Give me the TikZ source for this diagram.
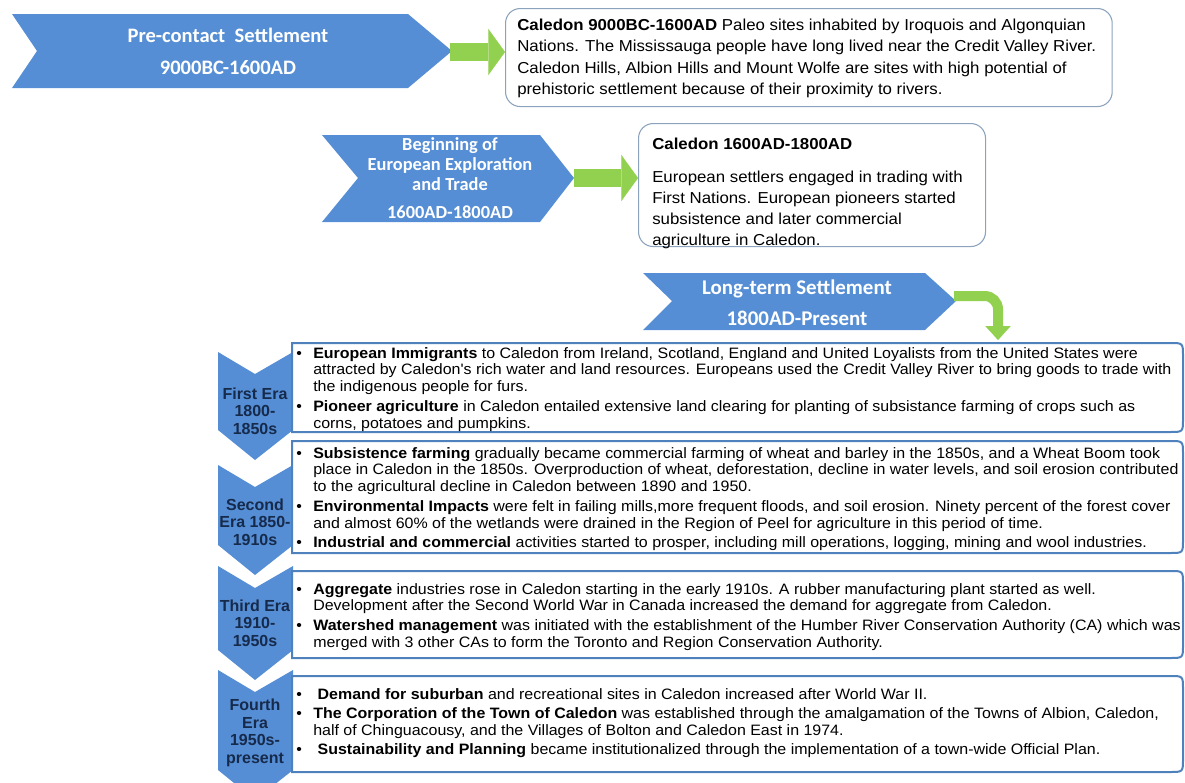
\documentclass[tikz,border=0pt]{standalone}
\usepackage{fontspec}
\setmainfont{Liberation Sans}
\newfontfamily\calibri{Carlito}
\newfontfamily\bodyfont[FakeStretch=1.06]{Liberation Sans}
\usetikzlibrary{
    arrows.meta,  % arrow tips
    positioning,  % relative placement
}

\definecolor{chevblue}{RGB}{85,142,213}
\definecolor{leafgreen}{RGB}{146,208,80}
\definecolor{framegray}{RGB}{140,163,190}
\definecolor{eraframe}{RGB}{79,129,189}
\definecolor{eranavy}{RGB}{22,42,75}

\newcommand{\bul}{\makebox[12.75pt][l]{•}}
\newcommand{\ind}{\hspace*{12.75pt}}

\tikzset{
    chev/.style={fill=chevblue},
    chevtext/.style={text=white, align=center, inner sep=0pt},
    eratext/.style={text=eranavy, align=center, inner sep=0pt, font=\bfseries\fontsize{12}{13.2}\selectfont},
    topbox/.style={draw=framegray, line width=0.8pt, rounded corners=11pt, fill=white, inner sep=0pt},
    toptext/.style={align=left, inner sep=0pt, font=\bodyfont\fontsize{11.9}{16.1}\selectfont},
    erabox/.style={draw=eraframe, line width=1.5pt, fill=white},
    bodytext/.style={align=left, inner sep=0pt, font=\bodyfont\fontsize{11.3}{12.6}\selectfont},
    greenjump/.style={draw=leafgreen, line width=13.5pt, -{Triangle[width=34.5pt,length=12.5pt,line width=0.1pt]}},
    greenbend/.style={draw=leafgreen, line width=7.5pt, rounded corners=10pt, -{Triangle[width=19pt,length=10.5pt,line width=0.1pt]}},
}

\begin{document}
\begin{tikzpicture}[x=0.75pt, y=-0.75pt]
\useasboundingbox (0,0) rectangle (1185,782);

% pre-contact
\fill[chev] (12,14) -- (408,14) -- (452,51) -- (408,88) -- (12,88) -- (37,51) -- cycle;
\node[chevtext, font=\calibri\bfseries\fontsize{15.4}{24}\selectfont] (precontact) at (228,51) {Pre-contact\ \ Settlement\\9000BC-1600AD};
\node[topbox, minimum width=455pt, minimum height=73.5pt, anchor=north west] (c9000) at (505,8) {};
\node[toptext, below right=8pt and 9pt of c9000.north west] (t9000) {\textbf{Caledon 9000BC-1600AD} Paleo sites inhabited by Iroquois and Algonquian\\Nations. The Mississauga people have long lived near the Credit Valley River.\\Caledon Hills, Albion Hills and Mount Wolfe are sites with high potential of\\prehistoric settlement because of their proximity to rivers.};
\coordinate (pretip) at (450,52);
\draw[greenjump] (pretip) -- (pretip -| c9000.west);

% exploration and trade
\fill[chev] (322,135) -- (540,135) -- (574,178) -- (540,222) -- (322,222) -- (358,178) -- cycle;
\node[chevtext, font=\calibri\bfseries\fontsize{13.8}{15}\selectfont] (explore) at (450,178) {Beginning of\\European Exploration\\and Trade\\[6pt]1600AD-1800AD};
\node[topbox, minimum width=260.25pt, minimum height=92.25pt, anchor=north west] (c1600) at (638,123) {};
\node[toptext, font=\bodyfont\fontsize{11.9}{15.75}\selectfont, below right=10.8pt and 10.5pt of c1600.north west] (t1600) {\textbf{Caledon 1600AD-1800AD}\\[9pt]European settlers engaged in trading with\\First Nations. European pioneers started\\subsistence and later commercial\\agriculture in Caledon.};
\coordinate (exptip) at (574,178);
\draw[greenjump] (exptip) -- (exptip -| c1600.west);

% long-term settlement
\fill[chev] (643,273) -- (925,273) -- (956,301) -- (925,330) -- (643,330) -- (672,301) -- cycle;
\node[chevtext, font=\calibri\bfseries\fontsize{15.7}{23}\selectfont] (longterm) at (797,303) {Long-term Settlement\\1800AD-Present};
\coordinate (lttip) at (954,296);
\coordinate (drop) at (998,340);
\draw[greenbend] (lttip) -| (drop);

% eras
\foreach \t/\s in {352/430, 465/545, 566/650, 670/770}
    \fill[chev] (218,\t) -- (255,\t+22) -- (293,\t) -- (293,\s) -- (255,\s+30) -- (218,\s) -- cycle;
\foreach \t/\b in {343/432, 441/553, 571/658, 676/772}
    \draw[erabox] (292,\t) -- (1170,\t) .. controls (1183,\t) .. (1183,\t+13) -- (1183,\b-13) .. controls (1183,\b) .. (1170,\b) -- (292,\b) -- cycle;

\node[eratext] (era1) at (255,411) {First Era\\1800-\\1850s};
\node[eratext] (era2) at (255,522) {Second\\Era 1850-\\1910s};
\node[eratext] (era3) at (255,623) {Third Era\\1910-\\1950s};
\node[eratext] (era4) at (255,733) {Fourth\\Era\\1950s-\\present};

\node[bodytext, anchor=north west] (body1) at (296,347) {\bul\textbf{European Immigrants} to Caledon from Ireland, Scotland, England and United Loyalists from the United States were\\
\ind attracted by Caledon's rich water and land resources. Europeans used the Credit Valley River to bring goods to trade with\\
\ind the indigenous people for furs.\\[2pt]
\bul\textbf{Pioneer agriculture} in Caledon entailed extensive land clearing for planting of subsistance farming of crops such as\\
\ind corns, potatoes and pumpkins.};
\node[bodytext, anchor=north west] (body2) at (296,447) {\bul\textbf{Subsistence farming} gradually became commercial farming of wheat and barley in the 1850s, and a Wheat Boom took\\
\ind place in Caledon in the 1850s. Overproduction of wheat, deforestation, decline in water levels, and soil erosion contributed\\
\ind to the agricultural decline in Caledon between 1890 and 1950.\\[2pt]
\bul\textbf{Environmental Impacts} were felt in failing mills,more frequent floods, and soil erosion. Ninety percent of the forest cover\\
\ind and almost 60\% of the wetlands were drained in the Region of Peel for agriculture in this period of time.\\[2pt]
\bul\textbf{Industrial and commercial} activities started to prosper, including mill operations, logging, mining and wool industries.};
\node[bodytext, anchor=north west] (body3) at (296,583) {\bul\textbf{Aggregate} industries rose in Caledon starting in the early 1910s. A rubber manufacturing plant started as well.\\
\ind Development after the Second World War in Canada increased the demand for aggregate from Caledon.\\[2pt]
\bul\textbf{Watershed management} was initiated with the establishment of the Humber River Conservation Authority (CA) which was\\
\ind merged with 3 other CAs to form the Toronto and Region Conservation Authority.};
\node[bodytext, anchor=north west] (body4) at (296,688) {\bul\ \textbf{Demand for suburban} and recreational sites in Caledon increased after World War II.\\[2pt]
\bul\textbf{The Corporation of the Town of Caledon} was established through the amalgamation of the Towns of Albion, Caledon,\\
\ind half of Chinguacousy, and the Villages of Bolton and Caledon East in 1974.\\[2pt]
\bul\ \textbf{Sustainability and Planning} became institutionalized through the implementation of a town-wide Official Plan.};
\end{tikzpicture}
\end{document}
